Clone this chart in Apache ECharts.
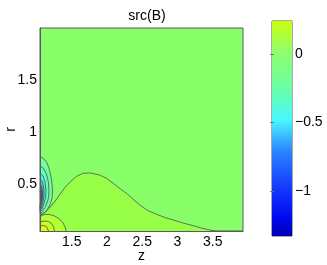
<!DOCTYPE html>
<html><head><meta charset="utf-8">
<script src="https://cdn.jsdelivr.net/npm/echarts@6/dist/echarts.min.js"></script>
<style>html,body{margin:0;padding:0;background:#fff}#c{width:327px;height:265px}</style>
</head><body><div id="c"></div>
<script>
// tick labels
const zTicks = [1.5, 2, 2.5, 3, 3.5];
const rTicks = [0.5, 1, 1.5];
const cbTicks = [-1, -0.5, 0];
const cbRange = [-1.33, 0.24];

// contour lines, [z, r]
const humpLine = [[1.050,0.199],[1.114,0.223],[1.185,0.271],[1.256,0.329],[1.327,0.396],[1.398,0.463],[1.484,0.526],[1.569,0.574],[1.655,0.603],[1.754,0.608],[1.896,0.588],[1.996,0.555],[2.086,0.509],[2.181,0.459],[2.276,0.413],[2.366,0.358],[2.465,0.300],[2.579,0.247],[2.703,0.211],[2.821,0.180],[2.939,0.156],[3.077,0.127],[3.224,0.101],[3.362,0.074],[3.508,0.053],[3.532,0.050]];
const lobeOuter = [[1.050,0.188],[1.114,0.209],[1.185,0.209],[1.256,0.194],[1.327,0.165],[1.377,0.127],[1.406,0.088],[1.420,0.050]];
const lobeMid = [[1.050,0.137],[1.114,0.146],[1.171,0.141],[1.214,0.122],[1.242,0.088],[1.256,0.050]];
const lobeInner = [[1.050,0.098],[1.100,0.103],[1.142,0.093],[1.164,0.074],[1.171,0.050]];
const neg1 = [[1.050,0.764],[1.100,0.747],[1.150,0.704],[1.185,0.637],[1.214,0.540],[1.228,0.444],[1.221,0.367],[1.192,0.300],[1.142,0.245],[1.086,0.214],[1.050,0.205]];
const neg2 = [[1.050,0.675],[1.100,0.651],[1.142,0.598],[1.171,0.512],[1.178,0.425],[1.164,0.348],[1.128,0.285],[1.086,0.236],[1.050,0.215]];
const neg3 = [[1.050,0.608],[1.093,0.579],[1.121,0.521],[1.135,0.444],[1.128,0.367],[1.100,0.300],[1.071,0.250],[1.050,0.225]];
const neg4 = [[1.050,0.550],[1.086,0.521],[1.104,0.463],[1.107,0.396],[1.093,0.330],[1.068,0.270],[1.050,0.235]];
const neg5 = [[1.050,0.502],[1.076,0.473],[1.088,0.415],[1.083,0.350],[1.064,0.290],[1.050,0.245]];
const neg6 = [[1.050,0.463],[1.068,0.435],[1.074,0.396],[1.068,0.340],[1.057,0.290],[1.050,0.255]];
const neg7 = [[1.050,0.435],[1.061,0.411],[1.063,0.377],[1.058,0.320],[1.050,0.265]];
const neg8 = [[1.050,0.410],[1.056,0.385],[1.056,0.330],[1.050,0.275]];
const corner = [1.050, 0.050];

const fills = [
  [humpLine.concat([corner]), '#98FF48'],
  [lobeOuter.concat([corner]), '#B2FF34'],
  [lobeMid.concat([corner]), '#C4FF26'],
  [lobeInner.concat([corner]), '#D6FF16'],
  [neg1, '#72FFA0'],
  [neg2, '#60FFBE'],
  [neg3, '#50F4DA'],
  [neg4, '#48C8D0'],
  [neg5, '#3C7C88'],
  [neg6, '#2E4A52'],
  [neg7, '#283434'],
  [neg8, '#202424']
];
const lines = [humpLine, lobeOuter, lobeMid, lobeInner, neg1, neg2, neg3, neg4, neg5, neg6, neg7, neg8];

const FONT = 'Liberation Sans';
const chart = echarts.init(document.getElementById('c'), null, {renderer: 'canvas'});
const series = [];
fills.forEach(([pts, col]) => {
  series.push({
    type: 'custom', xAxisIndex: 0, yAxisIndex: 0, data: pts, silent: true, z: 2,
    renderItem: (params, api) => {
      if (params.dataIndex !== 0) return;
      return {type: 'polygon', shape: {points: pts.map(p => api.coord(p))}, style: {fill: col}};
    }
  });
});
lines.forEach(pts => {
  series.push({
    type: 'line', xAxisIndex: 0, yAxisIndex: 0, data: pts, showSymbol: false, silent: true, z: 3,
    lineStyle: {color: '#505050', width: 0.8}, animation: false
  });
});
// colorbar
series.push({
  type: 'custom', xAxisIndex: 1, yAxisIndex: 1, data: [[0, cbRange[1]]], silent: true,
  renderItem: (params, api) => {
    const a = api.coord([0, cbRange[1]]), b = api.coord([1, cbRange[0]]);
    return {type: 'rect', shape: {x: a[0], y: a[1], width: b[0]-a[0], height: b[1]-a[1]},
      style: {fill: new echarts.graphic.LinearGradient(0, 0, 0, 1, [
        {offset: 0, color: '#C8FF10'},
        {offset: 0.15, color: '#8EFF6E'},
        {offset: 0.32, color: '#68FFA8'},
        {offset: 0.46, color: '#48F8FF'},
        {offset: 0.6, color: '#2C88FF'},
        {offset: 0.78, color: '#1438FF'},
        {offset: 0.92, color: '#0008EE'},
        {offset: 1, color: '#0000B0'}
      ])}};
  }
});

const minus = v => v < 0 ? '\u2212' + (-v) : String(v);
chart.setOption({
  animation: false,
  title: {text: 'src(B)', left: 142, top: 4, textAlign: 'center',
    textStyle: {fontFamily: FONT, fontSize: 14, fontWeight: 'normal', color: '#000'}},
  grid: [
    {left: 40, top: 28, width: 203, height: 203, outerBoundsMode: 'none', containLabel: false, show: true, backgroundColor: '#88FF68', borderColor: '#5a5a5a', borderWidth: 1},
    {left: 272, top: 21, width: 20, height: 215, outerBoundsMode: 'none', containLabel: false, show: true, backgroundColor: 'transparent', borderColor: '#555', borderWidth: 1}
  ],
  xAxis: [
    {type: 'value', gridIndex: 0, min: 1.05, max: 3.93, z: 10,
      name: 'z', nameLocation: 'middle', nameGap: 18, nameMoveOverlap: false,
      nameTextStyle: {fontFamily: FONT, fontSize: 14, color: '#000'},
      axisLine: {show: true, lineStyle: {color: '#5a5a5a', width: 1}},
      axisTick: {show: false}, splitLine: {show: false},
      axisLabel: {customValues: zTicks, fontFamily: FONT, fontSize: 14, color: '#000', margin: 4}},
    {type: 'value', gridIndex: 1, min: 0, max: 1, show: false}
  ],
  yAxis: [
    {type: 'value', gridIndex: 0, min: 0.05, max: 2.0, z: 10,
      name: 'r', nameLocation: 'middle', nameGap: 22, nameRotate: 90, nameMoveOverlap: false,
      nameTextStyle: {fontFamily: FONT, fontSize: 14, color: '#000'},
      axisLine: {show: true, lineStyle: {color: '#5a5a5a', width: 1}},
      axisTick: {show: false}, splitLine: {show: false},
      axisLabel: {customValues: rTicks, fontFamily: FONT, fontSize: 14, color: '#000', margin: 3}},
    {type: 'value', gridIndex: 1, min: cbRange[0], max: cbRange[1], position: 'right', z: 10,
      axisLine: {show: false}, splitLine: {show: false},
      axisTick: {show: true, inside: true, length: 2, customValues: cbTicks, lineStyle: {color: '#777'}},
      axisLabel: {customValues: cbTicks, formatter: minus, fontFamily: FONT, fontSize: 14, color: '#000', margin: 3}},
    {type: 'value', gridIndex: 1, min: cbRange[0], max: cbRange[1], position: 'left', z: 10,
      axisLine: {show: false}, splitLine: {show: false},
      axisTick: {show: true, inside: true, length: 2, customValues: cbTicks, lineStyle: {color: '#777'}},
      axisLabel: {show: false}}
  ],
  series: series
});
</script></body></html>
